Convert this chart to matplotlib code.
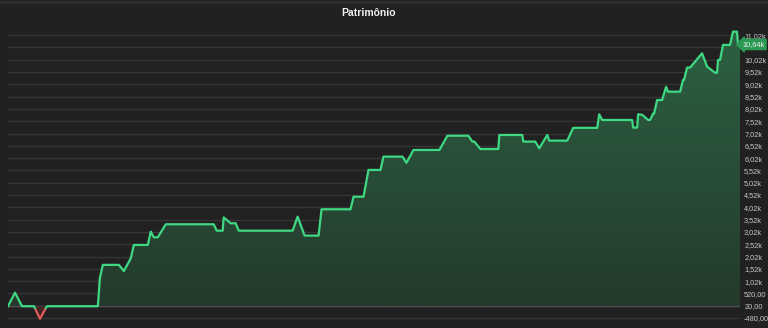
import numpy as np
import matplotlib
matplotlib.use("Agg")
import matplotlib.pyplot as plt
from matplotlib.colors import LinearSegmentedColormap
from matplotlib.patches import Rectangle

# dados (posição no tempo, patrimônio)
tempo = [7, 14, 21, 33, 39, 46, 97, 99, 102, 118, 123, 130, 133, 147, 150, 153,
         157, 165, 213, 216, 222, 223, 230, 235, 238, 292, 297, 304, 318, 321,
         350, 353, 363, 368, 380, 383, 402, 406, 413, 439, 447, 468, 472, 474,
         480, 498, 499, 522, 523, 535, 539, 547, 549, 567, 573, 597, 599, 602,
         632, 633, 637, 638, 642, 648, 650, 653, 654, 657, 662, 666, 668, 680,
         683, 684, 687, 690, 702, 707, 715, 717, 718, 720, 723, 730, 733, 737,
         738, 740]
patrimonio = [0, 550, 0, 0, -510, 0, 0, 1150, 1680, 1680, 1430, 1950, 2490, 2490,
              3030, 2800, 2800, 3330, 3330, 3070, 3070, 3610, 3370, 3370, 3070,
              3070, 3640, 2870, 2870, 3940, 3940, 4450, 4450, 5540, 5540, 6080,
              6080, 5830, 6350, 6350, 6930, 6930, 6690, 6690, 6390, 6390, 6960,
              6960, 6690, 6690, 6420, 6960, 6730, 6730, 7250, 7250, 7800, 7570,
              7570, 7260, 7260, 7800, 7780, 7570, 7570, 7830, 7830, 8380, 8380,
              8920, 8720, 8720, 9200, 9200, 9700, 9700, 10280, 9740, 9490, 9490,
              10010, 10010, 10620, 10620, 11160, 11160, 10640, 10640]
ticks = [-480 + 500 * i for i in range(24)]
ultimo = 10640

BG = "#212121"
VERDE = "#3fd883"
VERMELHO = "#e05a5a"
FONTE = ["Liberation Sans", "DejaVu Sans"]

x = np.array(tempo, dtype=float)
y = np.array(patrimonio, dtype=float)

fig = plt.figure(figsize=(7.68, 3.28), dpi=100, facecolor=BG)
ax = fig.add_axes([8 / 768, 2 / 328, 732 / 768, 300 / 328], facecolor=BG)
ymin, ymax = -805, 11390
ax.set_xlim(7, 740)
ax.set_ylim(ymin, ymax)

# grade horizontal
for t in ticks:
    cor = "#5a5a5a" if t == 20 else "#353535"
    ax.axhline(t, color=cor, lw=1.0, zorder=1)

# preenchimento em degradê (verde acima de zero, vermelho abaixo)
poly = ax.fill_between(x, y, 0, color="none", zorder=2)
cmap = LinearSegmentedColormap.from_list("g", ["#243a2c", "#2c6242"])
grad = np.linspace(0, 1, 256).reshape(-1, 1)
img = ax.imshow(grad, cmap=cmap, origin="lower", aspect="auto",
                extent=[7, 740, 0, ymax], zorder=2)
img.set_clip_path(poly.get_paths()[0], transform=ax.transData)
img_r = ax.imshow(grad, cmap=LinearSegmentedColormap.from_list("r", ["#2c2222", "#4a2626"]),
                  origin="lower", aspect="auto", extent=[7, 740, ymin, 0], zorder=2)
img_r.set_clip_path(poly.get_paths()[0], transform=ax.transData)

# linha verde acima de zero, vermelha abaixo
corte = -120
lg, = ax.plot(x, y, color=VERDE, lw=1.6, zorder=3)
lg.set_clip_path(Rectangle((7, corte), 800, 20000, transform=ax.transData))
lr, = ax.plot(x, y, color=VERMELHO, lw=1.6, zorder=3)
lr.set_clip_path(Rectangle((7, -5000), 800, 5000 + corte, transform=ax.transData))


def fmt(v):
    if abs(v) >= 1000:
        return f"{v / 1000:.2f}k".replace(".", ",")
    return f"{v:.2f}".replace(".", ",")


ax.yaxis.tick_right()
mostrar = [t for t in ticks if t != 10520]
ax.set_yticks(mostrar)
ax.set_yticklabels([fmt(t) for t in mostrar], family=FONTE)
ax.tick_params(axis="y", length=0, pad=3, labelsize=5.3, labelcolor="#c8c8c8")
ax.set_xticks([])
for s in ax.spines.values():
    s.set_visible(False)

# etiqueta do último valor
ax.text(1.003, ultimo, fmt(ultimo), transform=ax.get_yaxis_transform(),
        fontsize=5.3, family=FONTE, color="#f0f0f0", va="center", ha="left",
        bbox=dict(boxstyle="larrow,pad=0.22", fc="#2a9a52", ec="#2a9a52"))

fig.text(368 / 768, 1 - 13 / 328, "Patrimônio", ha="center", va="center",
         fontsize=7.5, fontweight="bold", color="#f0f0f0", family=FONTE)
fig.add_artist(plt.Line2D([0, 1], [1 - 1.5 / 328] * 2, color="#2e2e2e", lw=2))

fig.savefig("out.png", dpi=100, facecolor=BG)
